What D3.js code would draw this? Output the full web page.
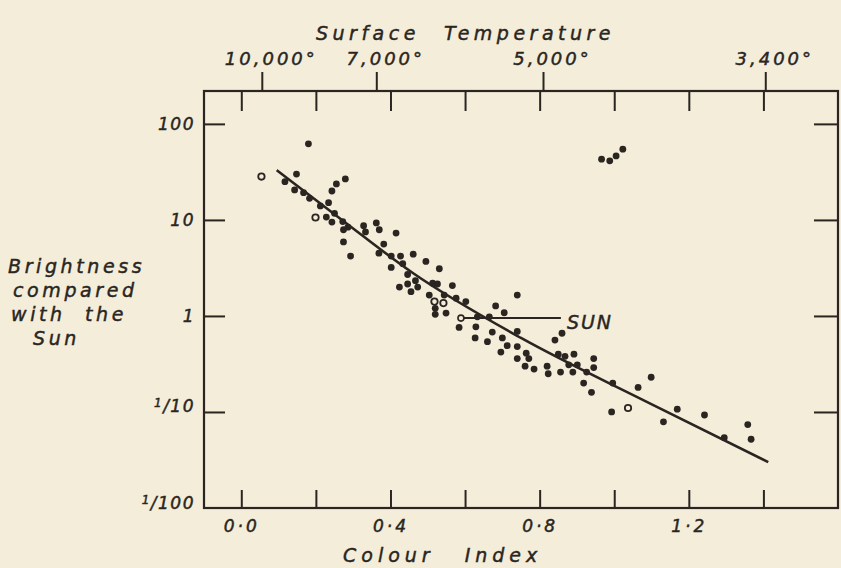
<!DOCTYPE html>
<html>
<head>
<meta charset="utf-8">
<script src="https://cdn.jsdelivr.net/npm/d3@7"></script>
<style>
  body { margin: 0; background: #f3edd9; }
  svg { display: block; }
  text { font-family: "DejaVu Sans", sans-serif; font-style: italic; fill: #2a2521; stroke: #2a2521; stroke-width: 0.45px; }
</style>
</head>
<body>
<svg id="chart" width="841" height="568"></svg>
<script>
// stars: colour index vs brightness (sun = 1)
const colourIndex = [0.18, 0.148, 0.117, 0.143, 0.167, 0.183, 0.255, 0.279, 0.243, 0.234,
  0.228, 0.250, 0.243, 0.212, 0.272, 0.286, 0.274, 0.274, 0.293, 0.328,
  0.333, 0.362, 0.370, 0.415, 0.382, 0.369, 0.402, 0.427, 0.461, 0.495,
  0.402, 0.433, 0.446, 0.531, 0.424, 0.446, 0.455, 0.473, 0.467, 0.504,
  0.513, 0.526, 0.566, 0.544, 0.576, 0.602, 0.520, 0.520, 0.549, 0.584,
  0.629, 0.633, 0.665, 0.682, 0.705, 0.673, 0.700, 0.627, 0.660, 0.740,
  0.740, 0.713, 0.740, 0.696, 0.764, 0.740, 0.771, 0.761, 0.785, 0.820,
  0.823, 0.856, 0.841, 0.860, 0.850, 0.868, 0.892, 0.878, 0.901, 0.889,
  0.926, 0.945, 0.945, 0.918, 0.939, 0.996, 1.064, 1.099, 0.993, 1.132,
  1.169, 1.242, 1.295, 1.358, 1.367, 0.966, 0.988, 1.005, 1.023]
const brightness = [62, 30, 25, 20.5, 19.2, 16.8, 23.7, 26.7, 20, 15.1,
  10.7, 11.7, 9.5, 14, 9.6, 8.4, 7.9, 5.9, 4.2, 8.7,
  7.5, 9.3, 7.9, 7.3, 5.6, 4.5, 4.2, 4.2, 4.4, 3.7,
  3.2, 3.5, 2.7, 3.1, 2.0, 2.15, 1.79, 2.0, 2.33, 1.65,
  2.19, 2.15, 2.07, 1.65, 1.53, 1.41, 1.20, 1.04, 1.07, 0.76,
  0.77, 0.98, 0.98, 1.27, 1.08, 0.68, 0.59, 0.59, 0.54, 1.65,
  0.69, 0.49, 0.48, 0.42, 0.41, 0.36, 0.36, 0.30, 0.28, 0.30,
  0.25, 0.26, 0.56, 0.66, 0.40, 0.38, 0.40, 0.31, 0.31, 0.26,
  0.26, 0.36, 0.29, 0.20, 0.16, 0.20, 0.18, 0.23, 0.10, 0.079,
  0.107, 0.093, 0.054, 0.074, 0.052, 42.9, 41.2, 46.4, 54.5]

// open circles
const openCI = [0.054, 0.199, 0.518, 0.542, 1.037]
const openB = [28.3, 10.6, 1.41, 1.36, 0.11]

// drawn mean line
const fitCI = [0.095, 0.27, 0.46, 0.75, 1.09, 1.413]
const fitB = [33, 10, 2.8, 0.59, 0.126, 0.030]

// the sun and its pointer
const sunCI = 0.589, sunB = 0.95, sunLabelCI = 0.857

const ciTicks = [0, 0.2, 0.4, 0.6, 0.8, 1.0, 1.2, 1.4]
const ciLabels = ["0·0", "", "0·4", "", "0·8", "", "1·2", ""]
const tempCI = [0.055, 0.362, 0.809, 1.405]
const tempLabels = ["10,000°", "7,000°", "5,000°", "3,400°"]
const bTicks = [100, 10, 1, 0.1, 0.01]
const bLabels = ["100", "10", "1", "1/10", "1/100"]

const ink = "#2a2521"
const svg = d3.select("#chart")

const plotLeft = 204, plotRight = 838, plotTop = 91, plotBottom = 508

const x = d3.scaleLinear().domain([-0.1, 1.6]).range([plotLeft, plotRight])
const y = d3.scaleLog().domain([0.01, 220]).range([plotBottom, plotTop])

function styleAxis(g){
    g.select(".domain").remove()
    g.attr("font-family", null).attr("font-size", null)
    g.selectAll(".tick line").attr("stroke", ink).attr("stroke-width", 2)
    g.selectAll(".tick text").attr("fill", ink).attr("font-size", 17)
}

// frame
svg.append("rect")
    .attr("x", plotLeft).attr("y", plotTop)
    .attr("width", plotRight - plotLeft).attr("height", plotBottom - plotTop)
    .attr("fill", "none").attr("stroke", ink).attr("stroke-width", 2.2)

// left axis with brightness labels
const gl = svg.append("g")
    .attr("transform", `translate(${plotLeft},0)`)
    .call(d3.axisLeft(y).tickValues(bTicks).tickSizeInner(-21).tickSizeOuter(0).tickPadding(9)
        .tickFormat((d, i) => bLabels[i]))
    .call(styleAxis)
gl.selectAll(".tick text").attr("letter-spacing", 1.5)
gl.selectAll(".tick").filter(d => d == 0.01).select("line").remove()
gl.selectAll(".tick text").each(function(d, i){
    if (d >= 1) return
    const t = d3.select(this)
    const parts = bLabels[i].split("/")
    t.text(null)
    t.append("tspan").attr("font-size", 12).attr("dy", -5).text(parts[0])
    t.append("tspan").attr("dy", 5).text("/" + parts[1])
})

// right axis, ticks only
svg.append("g")
    .attr("transform", `translate(${plotRight},0)`)
    .call(d3.axisRight(y).tickValues(bTicks.slice(0, 4)).tickSizeInner(-24).tickSizeOuter(0).tickFormat(""))
    .call(styleAxis)

// bottom axis, colour index
const gb = svg.append("g")
    .attr("transform", `translate(0,${plotBottom})`)
    .call(d3.axisBottom(x).tickValues(ciTicks).tickSizeInner(-18).tickSizeOuter(0).tickPadding(12)
        .tickFormat((d, i) => ciLabels[i]))
    .call(styleAxis)
gb.selectAll(".tick text").attr("letter-spacing", 3)

// top: inner colour index ticks + temperature scale
svg.append("g")
    .attr("transform", `translate(0,${plotTop})`)
    .call(d3.axisTop(x).tickValues(ciTicks).tickSizeInner(-20).tickSizeOuter(0).tickFormat(""))
    .call(styleAxis)
const gt = svg.append("g")
    .attr("transform", `translate(0,${plotTop})`)
    .call(d3.axisTop(x).tickValues(tempCI).tickSizeInner(19).tickSizeOuter(0).tickPadding(7)
        .tickFormat((d, i) => tempLabels[i]))
    .call(styleAxis)
gt.selectAll(".tick text").attr("dx", 9).attr("font-size", 18).attr("letter-spacing", 3)

// titles
svg.append("text")
    .attr("x", 316).attr("y", 40)
    .attr("font-size", 19).attr("letter-spacing", 4.5)
    .text("Surface")
    .append("tspan").attr("dx", 24).text("Temperature")

svg.append("text")
    .attr("x", 343).attr("y", 562)
    .attr("font-size", 19).attr("letter-spacing", 5)
    .text("Colour")
    .append("tspan").attr("dx", 30).text("Index")

const yTitle = [["Brightness", 8], ["compared", 13], ["with  the", 11], ["Sun", 33]]
svg.append("g").selectAll("text")
    .data(yTitle)
    .join("text")
    .attr("x", d => d[1])
    .attr("y", (d, i) => 273 + i * 24)
    .attr("font-size", 19).attr("letter-spacing", 3.6)
    .style("white-space", "pre")
    .text(d => d[0])

// fitted line
const line = d3.line().x(d => x(d[0])).y(d => y(d[1])).curve(d3.curveMonotoneX)
svg.append("path")
    .attr("d", line(d3.zip(fitCI, fitB)))
    .attr("fill", "none").attr("stroke", ink).attr("stroke-width", 2.6)

// stars
svg.append("g").selectAll("circle")
    .data(d3.zip(colourIndex, brightness))
    .join("circle")
    .attr("cx", d => x(d[0])).attr("cy", d => y(d[1]))
    .attr("r", 3.4).attr("fill", ink)

svg.append("g").selectAll("circle")
    .data(d3.zip(openCI, openB))
    .join("circle")
    .attr("cx", d => x(d[0])).attr("cy", d => y(d[1]))
    .attr("r", 3.2).attr("fill", "none").attr("stroke", ink).attr("stroke-width", 1.8)

// the sun
svg.append("line")
    .attr("x1", x(sunCI)).attr("x2", x(sunLabelCI))
    .attr("y1", y(sunB)).attr("y2", y(sunB))
    .attr("stroke", ink).attr("stroke-width", 2)
svg.append("circle")
    .attr("cx", x(sunCI)).attr("cy", y(sunB)).attr("r", 3)
    .attr("fill", "#f3edd9").attr("stroke", ink).attr("stroke-width", 1.6)
svg.append("text")
    .attr("x", x(sunLabelCI) + 6).attr("y", y(sunB) + 11)
    .attr("font-size", 19).attr("letter-spacing", 2)
    .text("SUN")
</script>
</body>
</html>
